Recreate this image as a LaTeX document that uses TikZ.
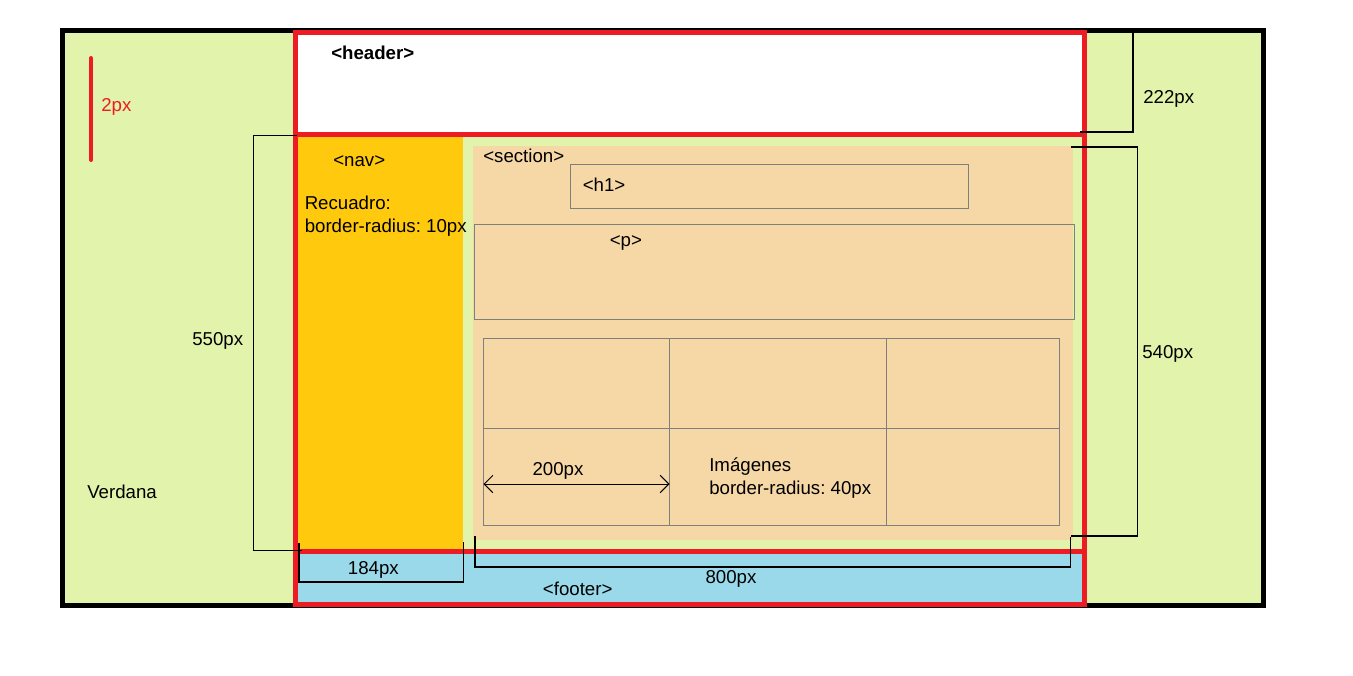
\documentclass[tikz,border=0pt]{standalone}
\usepackage{fontspec}
\setmainfont{Liberation Sans}
\usepackage{tikz}
\usetikzlibrary{arrows.meta}
\frenchspacing

\definecolor{pagegreen}{HTML}{E2F3AB}
\definecolor{cssred}{HTML}{ED1C24}
\definecolor{navyellow}{HTML}{FFC90E}
\definecolor{peach}{HTML}{F6D7A6}
\definecolor{footblue}{HTML}{99D9EA}
\definecolor{boxgray}{HTML}{7F7F7F}

\begin{document}
\begin{tikzpicture}[x=0.75pt, y=-0.75pt, font=\fontsize{14}{16}\selectfont,
    lbl/.style={inner sep=0pt, text height=0.72em, text depth=0pt, anchor=west, yshift=-1.5pt},
    mid/.style={inner sep=0pt, text height=0.72em, text depth=0pt, yshift=-1.5pt},
    dim/.style={black, line width=0.9pt},
    box/.style={draw=boxgray, line width=0.75pt},
    thick red/.style={cssred, line width=3.75pt}]
    \useasboundingbox (0,0) rectangle (1353,675);
    	% fills
    	\fill[pagegreen] (62.5,30) rectangle (1263.5,605.5);
    	\fill[white] (295.5,32.5) rectangle (1084.5,134.5);
    	\fill[navyellow] (298,137) rectangle (463,549);
    	\fill[peach] (473,146) rectangle (1073,540);
    	\fill[footblue] (298,551.5) rectangle (1082,603);
    	% borders
    	\draw[black, line width=3.75pt] (62.5,30) rectangle (1263.5,605.5);
    	\draw[thick red] (295.5,32.5) rectangle (1084.5,604);
    	\draw[thick red] (295.5,134.5) -- (1084.5,134.5);
    	\draw[thick red] (295.5,551.5) -- (1084.5,551.5);
    	\draw[cssred, line width=3pt, line cap=round] (91,58) -- (91,160);
    	% section boxes
    	\draw[box] (570,164) rectangle (968.5,208.5);
    	\draw[box] (474.5,224.5) rectangle (1074.5,319.5);
    	\draw[box] (483.5,338.5) rectangle (1059.5,525);
    	\draw[box] (669.5,338.5) -- (669.5,525) (886.5,338.5) -- (886.5,525) (483.5,428.5) -- (1059.5,428.5);
    	% measures
    	\draw[dim] (297,135.3) -- (253.3,135.3) -- (253.3,550.7) -- (301.7,550.7);
    	\draw[dim] (1133,32) -- (1133,132) -- (1080,132);
    	\draw[dim] (1071,147) -- (1137.5,147) -- (1137.5,536) -- (1071,536);
    	\draw[dim] (299,543) -- (299,582) -- (463.5,582) -- (463.5,542);
    	\draw[dim] (475,536) -- (475,567) -- (1070.7,567) -- (1070.7,537);
    	\coordinate (imgL) at (483.5,484);
    	\coordinate (imgR) at (669.5,484);
    	\draw[black, line width=0.75pt, {Straight Barb[length=6.5pt,width=13pt]}-{Straight Barb[length=6.5pt,width=13pt]}] (imgL) -- (imgR);
    	% labels
    	\node[lbl, font=\fontsize{14}{16}\selectfont\bfseries] (header) at (331,53) {<header>};
    	\node[lbl] (nav) at (333,160) {<nav>};
    	\node[lbl] (recuadro) at (304.5,202.5) {Recuadro:};
    	\node[lbl] (radius1) at (304.5,225.5) {border-radius: 10px};
    	\node[lbl, text=cssred] (grosor) at (101,105) {2px};
    	\node[mid] (alto) at (217.7,339) {550px};
    	\node[lbl] (fuente) at (87,491.5) {Verdana};
    	\node[lbl] (altoH) at (1143,97) {222px};
    	\node[lbl] (altoS) at (1142,351.5) {540px};
    	\node[lbl] (section) at (483,156) {<section>};
    	\node[lbl] (h1) at (582.5,185) {<h1>};
    	\node[lbl] (p) at (609.5,240) {<p>};
    	\node[mid] (anchoI) at (558,469) {200px};
    	\node[lbl] (imagenes) at (709,465) {Imágenes};
    	\node[lbl] (radius2) at (709,488) {border-radius: 40px};
    	\node[mid] (anchoN) at (373.3,568) {184px};
    	\node[mid] (anchoT) at (731,577) {800px};
    	\node[mid] (footer) at (577.7,589) {<footer>};
    \end{tikzpicture}
\end{document}
